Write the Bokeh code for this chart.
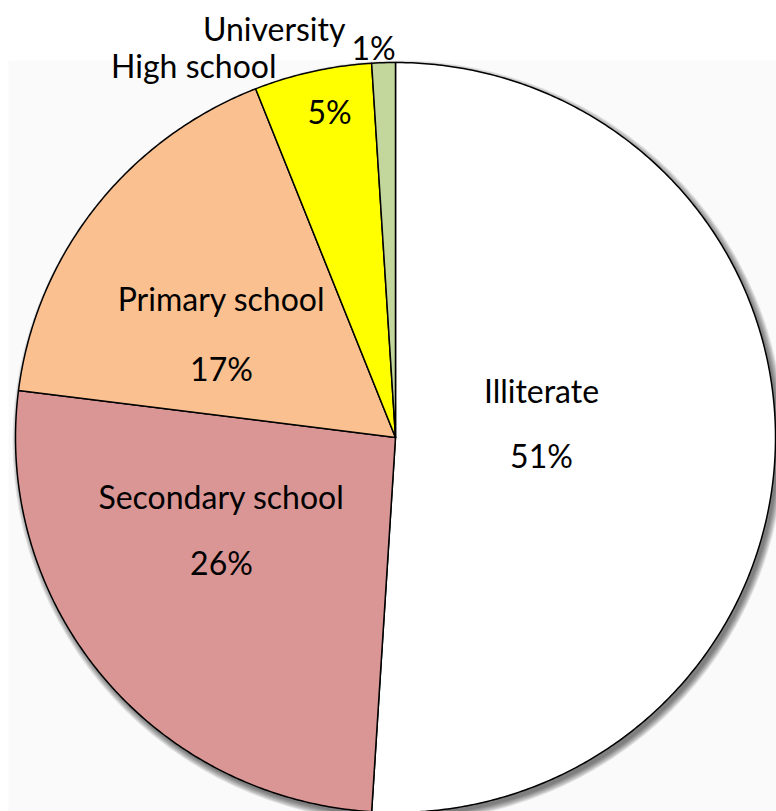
import numpy as np
from bokeh.plotting import figure
from bokeh.models import Range1d, ColumnDataSource, BoxAnnotation
from bokeh.core.properties import value
from bokeh.embed import file_html
from bokeh.resources import INLINE

# ---- data ----
categories = ["Illiterate", "Secondary school", "Primary school", "High school", "University"]
percents = [51, 26, 17, 5, 1]
colors = ["#FFFFFF", "#D99694", "#FAC090", "#FFFF00", "#C3D69B"]

# ---- layout (pixel-like data space, y grows downward) ----
W, H = 776, 811
CX, CY = 395, 437
RX, RY = 380, 375
FONT = value("Lato")
FS = "32px"

p = figure(width=W, height=H, output_backend="svg", toolbar_location=None,
           x_range=Range1d(0, W), y_range=Range1d(H, 0),
           min_border=0, background_fill_color="#FFFFFF", border_fill_color="#FFFFFF")
p.axis.visible = False
p.grid.visible = False
p.outline_line_color = None

# faint background panel
p.add_layout(BoxAnnotation(left=8, right=W, top=60, bottom=H,
                           fill_color="#FAFAFA", fill_alpha=1.0, line_color=None, level="underlay"))

# soft shadow
for s in np.arange(0, 7, 1.0):
    p.ellipse(x=CX + 3, y=CY + 4, width=2 * RX + 2 * s, height=2 * RY + 2 * s,
              fill_color="black", fill_alpha=0.09, line_color=None)

# wedges computed from values
total = float(sum(percents))
cum = np.cumsum([0] + percents) / total * 2 * np.pi
xs, ys = [], []
for i in range(len(percents)):
    a0, a1 = cum[i], cum[i + 1]
    n = max(4, int((a1 - a0) / (2 * np.pi) * 720))
    t = np.linspace(a0, a1, n)
    xs.append([CX] + list(CX + RX * np.sin(t)))
    ys.append([CY] + list(CY - RY * np.cos(t)))

src = ColumnDataSource(dict(xs=xs, ys=ys, color=colors, cat=categories))
p.patches("xs", "ys", source=src, fill_color="color", line_color="black", line_width=1.5,
          line_join="round")

# ---- labels ----
pct_labels = [f"{v}%" for v in percents]
# (name_x, name_y, name_align, pct_x, pct_y, pct_align)
label_layout = [
    (541, 390, "center", 541, 455, "center"),
    (221, 496, "center", 221, 562, "center"),
    (221, 298, "center", 221, 368, "center"),
    (276, 65, "right", 329, 111, "center"),
    (345, 28, "right", 373, 47, "center"),
]
for cat, pl, (nx, ny, na, px_, py_, pa) in zip(categories, pct_labels, label_layout):
    p.text(x=[nx], y=[ny], text=[cat], text_font=FONT, text_font_size=FS,
           text_align=na, text_baseline="middle", text_color="#000000")
    p.text(x=[px_], y=[py_], text=[pl], text_font=FONT, text_font_size=FS,
           text_align=pa, text_baseline="middle", text_color="#000000")

open("out.html", "w").write(file_html(p, INLINE))
